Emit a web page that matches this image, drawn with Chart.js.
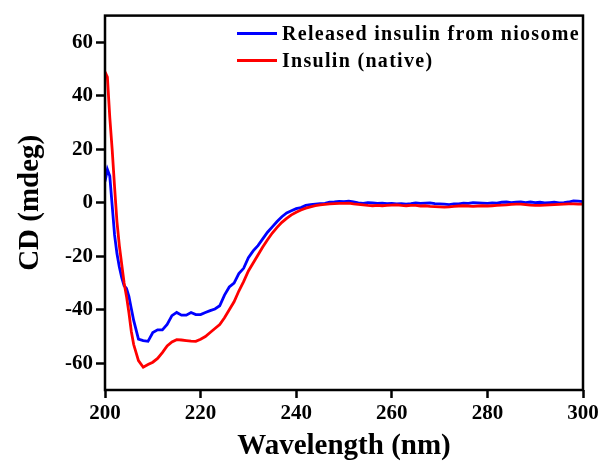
<!DOCTYPE html>
<html>
<head>
<meta charset="utf-8">
<script src="https://cdn.jsdelivr.net/npm/chart.js@4.4.1/dist/chart.umd.min.js"></script>
<style>
  html, body { margin: 0; padding: 0; background: #fff; }
  #wrap { width: 602px; height: 467px; }
</style>
</head>
<body>
<div id="wrap"><canvas id="cdchart"></canvas></div>
<script>
// CD spectra, wavelength in nm, CD in mdeg
const wavelength = [200, 200.5, 201, 201.5, 202, 202.5, 203, 203.5, 204, 204.5, 205, 205.5, 206,
  207, 208, 209, 210, 211, 212, 213, 214, 215, 216, 217, 218, 219, 220,
  221, 222, 223, 224, 225, 226, 227, 228, 229, 230,
  231, 232, 233, 234, 235, 236, 237, 238, 239, 240,
  241, 242, 243, 244, 245, 246, 247, 248, 249, 250,
  251, 252, 253, 254, 255, 256, 257, 258, 259, 260,
  261, 262, 263, 264, 265, 266, 267, 268, 269, 270,
  271, 272, 273, 274, 275, 276, 277, 278, 279, 280,
  281, 282, 283, 284, 285, 286, 287, 288, 289, 290,
  291, 292, 293, 294, 295, 296, 297, 298, 299, 300];

const released = [8, 12.5, 10, -1, -12, -19, -24, -28, -31, -32, -35, -39.5, -44,
  -51, -51.5, -51.8, -48.5, -47.5, -47.5, -45.5, -42.2, -41, -42, -42, -41, -41.8, -41.8,
  -41, -40.3, -39.7, -38.5, -34.5, -31.5, -30, -26.5, -24.5, -20.5,
  -18, -16, -13.5, -11, -9, -7, -5.2, -3.8, -3, -2.2,
  -1.8, -1, -0.7, -0.5, -0.3, -0.2, 0.2, 0.3, 0.5, 0.4,
  0.6, 0.3, 0, -0.2, 0.1, 0, -0.2, -0.1, -0.3, -0.2,
  -0.4, -0.3, -0.5, -0.3, 0, -0.2, -0.1, 0, -0.3, -0.4,
  -0.5, -0.7, -0.4, -0.4, -0.1, -0.2, 0.1, 0, -0.1, -0.2,
  0, -0.1, 0.2, 0.3, 0.1, 0.2, 0.3, 0.1, 0.3, 0.1,
  0.2, 0, 0.1, 0.2, 0, 0.1, 0.3, 0.7, 0.6, 0.4];

const native = [49, 47, 32, 20, 6, -7, -16, -23, -30, -35, -41, -48, -53,
  -59, -61.5, -60.5, -59.6, -58.2, -56, -53.5, -52, -51.2, -51.3, -51.5, -51.7, -51.8, -51,
  -50, -48.5, -47, -45.5, -43, -40, -37, -33, -29.5, -25.5,
  -22.5, -19.5, -16.5, -13.8, -11.3, -9.2, -7.3, -5.8, -4.5, -3.5,
  -2.7, -2, -1.5, -1.1, -0.8, -0.6, -0.4, -0.3, -0.2, -0.2,
  -0.1, -0.4, -0.6, -0.8, -1, -1.1, -1, -1.1, -1, -0.9,
  -0.8, -1, -1.1, -1, -1, -1.2, -1.1, -1.3, -1.4, -1.5,
  -1.6, -1.5, -1.3, -1.2, -1.1, -1.2, -1.3, -1.2, -1.1, -1.2,
  -1.1, -1, -0.9, -0.8, -0.6, -0.5, -0.5, -0.7, -0.9, -1,
  -1, -0.9, -0.8, -0.7, -0.6, -0.5, -0.4, -0.4, -0.5, -0.5];

const seriesNames = ['Released insulin from niosome', 'Insulin (native)'];
const xTicks = [200, 220, 240, 260, 280, 300];
const yTicks = [-60, -40, -20, 0, 20, 40, 60];

const serif = 'Liberation Serif';

function pairs(ys) {
  return wavelength.map((w, i) => ({ x: w, y: ys[i] }));
}

// legend drawn inside the plot, top right
const insideLegend = {
  id: 'insideLegend',
  afterDraw(chart) {
    const { ctx, chartArea } = chart;
    ctx.save();
    ctx.font = 'bold 20px "' + serif + '"';
    ctx.textBaseline = 'middle';
    ctx.letterSpacing = '1.3px';
    chart.data.datasets
      .slice()
      .sort((a, b) => a.legendRow - b.legendRow)
      .forEach((ds, row) => {
        const x0 = chartArea.left + 132;
        const y = chartArea.top + 18 + row * 27;
        ctx.strokeStyle = ds.borderColor;
        ctx.lineWidth = 3;
        ctx.beginPath();
        ctx.moveTo(x0, y);
        ctx.lineTo(x0 + 40, y);
        ctx.stroke();
        ctx.fillStyle = '#000';
        ctx.fillText(ds.label, x0 + 45, y + 1);
      });
    ctx.restore();
  }
};

// black box round the plot area
const frame = {
  id: 'frame',
  afterDatasetsDraw(chart) {
    const { ctx, chartArea: a } = chart;
    ctx.save();
    ctx.strokeStyle = '#000';
    ctx.lineWidth = 2.5;
    ctx.strokeRect(a.left, a.top, a.right - a.left, a.bottom - a.top);
    ctx.restore();
  }
};

const tickFont = { family: serif, size: 21, weight: 'bold' };
const titleFont = { family: serif, size: 29, weight: 'bold' };

new Chart(document.getElementById('cdchart'), {
  type: 'line',
  data: {
    datasets: [
      {
        label: seriesNames[1],
        legendRow: 1,
        data: pairs(native),
        borderColor: '#ff0000',
        borderWidth: 2.8,
        pointRadius: 0,
        tension: 0
      },
      {
        label: seriesNames[0],
        legendRow: 0,
        data: pairs(released),
        borderColor: '#0000ff',
        borderWidth: 2.8,
        pointRadius: 0,
        tension: 0
      }
    ]
  },
  options: {
    responsive: true,
    maintainAspectRatio: false,
    animation: false,
    layout: { padding: { top: 13, right: 19, left: 0, bottom: 0 } },
    plugins: {
      legend: { display: false },
      tooltip: { enabled: false }
    },
    scales: {
      x: {
        type: 'linear',
        min: 200,
        max: 300,
        afterBuildTicks: s => { s.ticks = xTicks.map(v => ({ value: v })); },
        afterFit: s => { s.height = 77; },
        border: { display: false },
        grid: { display: true, drawOnChartArea: false, drawTicks: true, tickLength: 8, tickWidth: 2.5, tickColor: '#000' },
        ticks: { color: '#000', font: tickFont, padding: 3, maxRotation: 0 },
        title: { display: true, text: 'Wavelength (nm)', color: '#000', font: titleFont, padding: { top: 0, bottom: 3 } }
      },
      y: {
        type: 'linear',
        min: -70,
        max: 70,
        afterBuildTicks: s => { s.ticks = yTicks.map(v => ({ value: v })); },
        afterFit: s => { s.width = 105; },
        border: { display: false },
        grid: { display: true, drawOnChartArea: false, drawTicks: true, tickLength: 9, tickWidth: 2.5, tickColor: '#000' },
        ticks: { color: '#000', font: tickFont, padding: 3 },
        title: { display: true, text: 'CD (mdeg)', color: '#000', font: titleFont, padding: { top: 13, bottom: 0 } }
      }
    }
  },
  plugins: [frame, insideLegend]
});
</script>
</body>
</html>
